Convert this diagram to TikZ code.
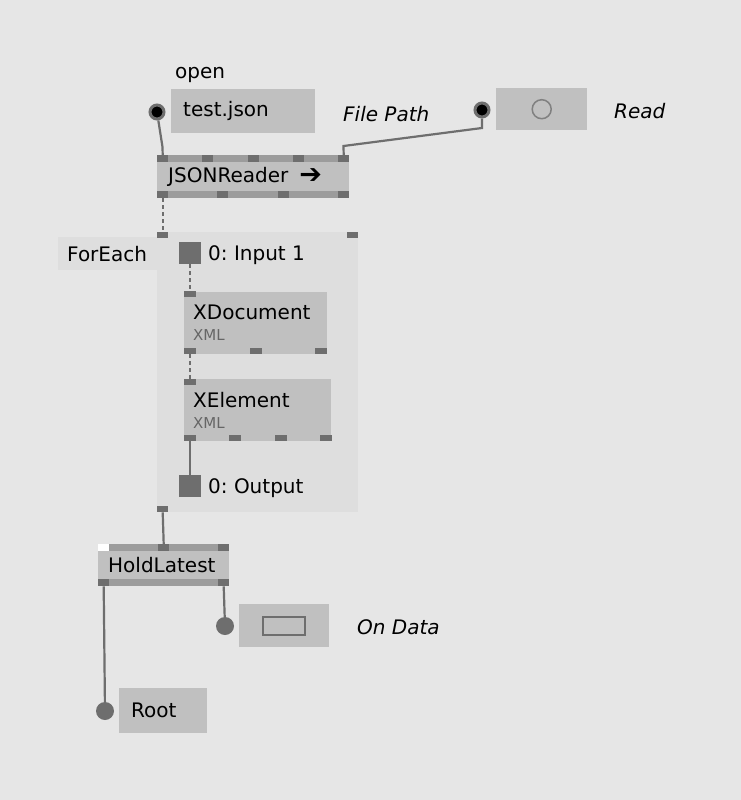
\documentclass[tikz,border=0pt]{standalone}
\usepackage{fontspec}
\setmainfont{DejaVu Sans}
\usetikzlibrary{positioning}

\definecolor{canvas}{HTML}{E6E6E6}
\definecolor{region}{HTML}{DEDEDE}
\definecolor{nodefill}{HTML}{C0C0C0}
\definecolor{barfill}{HTML}{9C9C9C}
\definecolor{pinfill}{HTML}{6E6E6E}
\definecolor{xmlgray}{HTML}{666666}

\begin{document}
\begin{tikzpicture}[x=1pt, y=-1pt, font=\fontsize{20}{24}\selectfont]

  \tikzstyle{box}=[fill=nodefill, anchor=north west, inner xsep=10pt, inner ysep=0pt, align=left]
  \tikzstyle{pad}=[fill=pinfill, anchor=north west, inner sep=0pt, minimum width=11pt, minimum height=7pt]
  \tikzstyle{iopin}=[circle, fill=pinfill, inner sep=0pt, minimum size=18pt]
  \tikzstyle{ringpin}=[circle, fill=black, draw=pinfill, line width=3pt, inner sep=0pt, minimum size=14pt]
  \tikzstyle{caption}=[anchor=base west, inner sep=0pt]
  \tikzstyle{wire}=[draw=pinfill, line width=2.2pt]
  \tikzstyle{dashwire}=[wire, dash pattern=on 4pt off 3pt]

  \fill[canvas] (0,0) rectangle (741,800);
  \useasboundingbox (0,0) rectangle (741,800);

  % inputs on top
  \node[caption] (OpenLabel) at (175,78) {open};
  \node[box, inner xsep=12pt, text width=120pt, minimum height=44pt] (TestJson) at (171,89) {test.json};
  \node[ringpin] (OpenPin) at (157,112) {};
  \node[fill=nodefill, anchor=north west, inner sep=0pt, minimum width=91pt, minimum height=42pt] (Read) at (496,88) {};
  \node[circle, draw=gray, line width=1.5pt, inner sep=0pt, minimum size=19pt] (ReadBang) at (Read.center) {};
  \node[ringpin] (ReadPin) at (482,110) {};
  \node[caption, font=\fontsize{20}{24}\selectfont\itshape] (FilePath) at (343,121) {File Path};
  \node[caption, font=\fontsize{20}{24}\selectfont\itshape] (ReadLabel) at (614,118) {Read};

  % JSONReader
  \node[box, inner xsep=11pt, text width=170pt, minimum height=43pt] (JSONReader) at (157,155) {JSONReader\hspace{11pt}\raisebox{-1pt}{\fontsize{27}{27}\selectfont ➔}};
  \fill[barfill] (JSONReader.north west) rectangle ++(192,7);
  \fill[barfill] (JSONReader.south west) rectangle ++(192,-7);
  \node[pad] (JRin1) at (157,155) {};
  \node[pad] (JRin2) at (202,155) {};
  \node[pad] (JRin3) at (248,155) {};
  \node[pad] (JRin4) at (293,155) {};
  \node[pad] (JRin5) at (338,155) {};
  \node[pad] (JRout1) at (157,191) {};
  \node[pad] (JRout2) at (217,191) {};
  \node[pad] (JRout3) at (278,191) {};
  \node[pad] (JRout4) at (338,191) {};

  % ForEach region
  \node[fill=region, anchor=north west, inner sep=0pt, minimum width=201pt, minimum height=280pt] (ForEach) at (157,232) {};
  \node[box, fill=region, inner xsep=9pt, text width=81pt, minimum height=33pt] (ForEachLabel) at (58,237) {ForEach};
  \node[pad, minimum height=6pt] (FEin) at (157,232) {};
  \node[pad, minimum height=6pt] (FEin2) at (347,232) {};
  \node[pad, minimum height=6pt] (FEout) at (157,506) {};
  \node[fill=pinfill, anchor=north west, inner sep=0pt, minimum size=22pt] (Input) at (179,242) {};
  \node[caption] (InputLabel) at (208,260) {0:\ Input 1};
  \node[box, inner xsep=9pt, text width=125pt, minimum height=62pt] (XDocument) at (184,292) {XDocument\\[-3pt]{\fontsize{15}{15}\selectfont\color{xmlgray}XML}};
  \node[pad, minimum width=12pt, minimum height=6pt] (XDin) at (184,291) {};
  \node[pad, minimum width=12pt, minimum height=6pt] (XDout1) at (184,348) {};
  \node[pad, minimum width=12pt, minimum height=6pt] (XDout2) at (250,348) {};
  \node[pad, minimum width=12pt, minimum height=6pt] (XDout3) at (315,348) {};
  \node[box, inner xsep=9pt, text width=129pt, minimum height=62pt] (XElement) at (184,379) {XElement\\[-3pt]{\fontsize{15}{15}\selectfont\color{xmlgray}XML}};
  \node[pad, minimum width=12pt, minimum height=6pt] (XEin) at (184,379) {};
  \node[pad, minimum width=12pt, minimum height=6pt] (XEout1) at (184,435) {};
  \node[pad, minimum width=12pt, minimum height=6pt] (XEout2) at (229,435) {};
  \node[pad, minimum width=12pt, minimum height=6pt] (XEout3) at (275,435) {};
  \node[pad, minimum width=12pt, minimum height=6pt] (XEout4) at (320,435) {};
  \node[fill=pinfill, anchor=north west, inner sep=0pt, minimum size=22pt] (Output) at (179,475) {};
  \node[caption] (OutputLabel) at (208,493) {0:\ Output};

  % HoldLatest and outputs
  \node[box, inner xsep=10pt, text width=111pt, minimum height=42pt] (HoldLatest) at (98,544) {HoldLatest};
  \fill[barfill] (HoldLatest.north west) rectangle ++(131,7);
  \fill[barfill] (HoldLatest.south west) rectangle ++(131,-7);
  \node[pad, fill=white] (HLin1) at (98,544) {};
  \node[pad] (HLin2) at (158,544) {};
  \node[pad] (HLin3) at (218,544) {};
  \node[pad] (HLout1) at (98,579) {};
  \node[pad] (HLout2) at (218,579) {};
  \node[fill=nodefill, anchor=north west, inner sep=0pt, minimum width=90pt, minimum height=43pt] (OnData) at (239,604) {};
  \node[draw=pinfill, line width=2pt, inner sep=0pt, minimum width=42pt, minimum height=18pt] (OnDataToggle) at (OnData.center) {};
  \node[iopin] (OnDataPin) at (225,626) {};
  \node[caption, font=\fontsize{20}{24}\selectfont\itshape] (OnDataLabel) at (357,634) {On Data};
  \node[box, inner xsep=12pt, text width=64pt, minimum height=45pt] (Root) at (119,688) {Root};
  \node[iopin] (RootPin) at (105,711) {};

  \coordinate (OpenBend) at (162.5,147);
  \coordinate (ReadBend1) at (482,128);
  \coordinate (ReadBend2) at (343.5,146);

  \draw[wire] (OpenPin) -- (OpenBend) -- (JRin1.north);
  \draw[wire] (ReadPin) -- (ReadBend1) -- (ReadBend2) -- (JRin5.north);
  \draw[dashwire] (JRout1.south) -- (FEin.north);
  \draw[dashwire] (Input.south) -- (XDin.north);
  \draw[dashwire] (XDout1.south) -- (XEin.north);
  \draw[wire] (XEout1.south) -- (Output.north);
  \draw[wire] (FEout.south) -- (HLin2.north);
  \draw[wire] (HLout1.south) -- (RootPin);
  \draw[wire] (HLout2.south) -- (OnDataPin);

\end{tikzpicture}
\end{document}
